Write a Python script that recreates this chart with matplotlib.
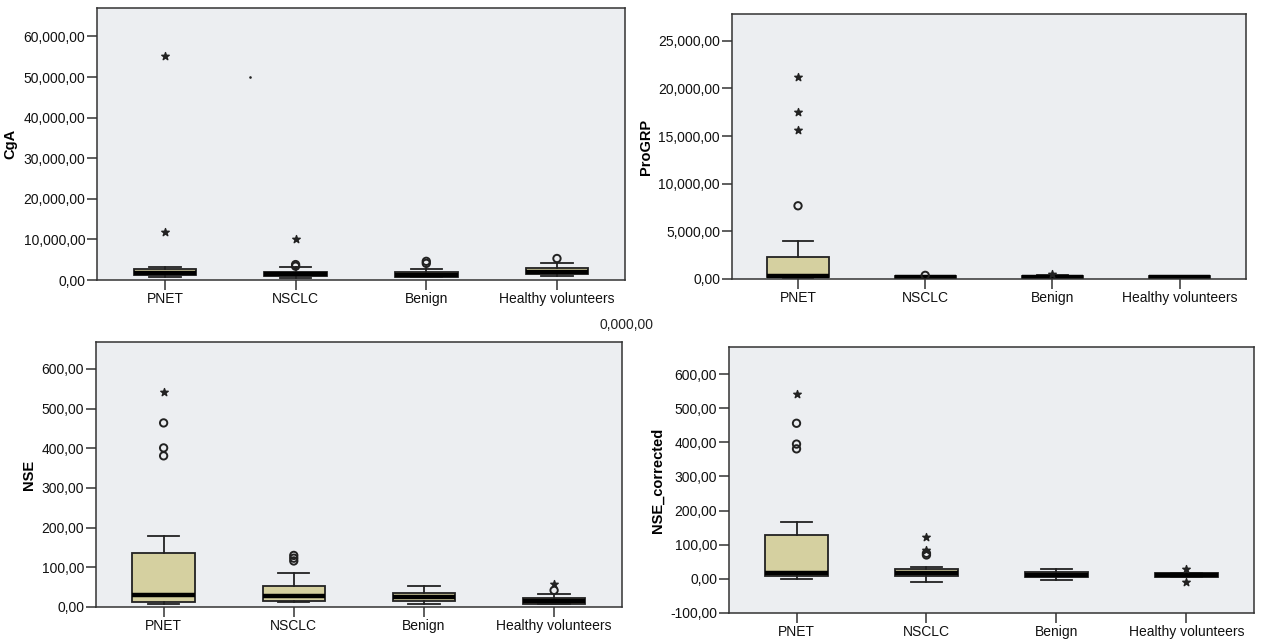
import matplotlib
matplotlib.use("Agg")
import matplotlib.pyplot as plt
from matplotlib.ticker import FuncFormatter

plt.rcParams['font.family'] = ['Liberation Sans', 'DejaVu Sans']

categories = ["PNET", "NSCLC", "Benign", "Healthy volunteers"]

# ---- CgA ----
cga_q1 = [1140, 980, 820, 1390]
cga_med = [1800, 1400, 1300, 2000]
cga_q3 = [2610, 2040, 1960, 3020]
cga_lo = [650, 570, 800, 980]
cga_hi = [3270, 3270, 2600, 4080]
cga_circ_x = [2, 2, 3, 3, 4]
cga_circ_y = [3400, 3800, 4100, 4600, 5300]
cga_star_x = [1, 1, 2]
cga_star_y = [55100, 11840, 10200]
cga_dot_x = [1.65]
cga_dot_y = [50000]

# ---- ProGRP ----
pro_q1 = [210, 80, 80, 70]
pro_med = [300, 200, 200, 180]
pro_q3 = [2320, 350, 350, 280]
pro_lo = [0, 0, 0, 40]
pro_hi = [4000, 350, 400, 300]
pro_circ_x = [1, 2]
pro_circ_y = [7680, 380]
pro_star_x = [1, 1, 1, 3]
pro_star_y = [21200, 17550, 15650, 490]

# ---- NSE ----
nse_q1 = [11.8, 14, 14, 8.4]
nse_med = [30, 27, 25, 14]
nse_q3 = [136, 54, 34, 23.5]
nse_lo = [8.4, 12, 8.4, 7]
nse_hi = [178, 86, 52, 33]
nse_circ_x = [1, 1, 1, 2, 2, 2, 4]
nse_circ_y = [464, 401, 381, 130, 123, 116, 42]
nse_star_x = [1, 4]
nse_star_y = [543, 58]

# ---- NSE_corrected ----
nsec_q1 = [9.8, 9.8, 5.9, 5.9]
nsec_med = [18.6, 18.6, 12.8, 11.8]
nsec_q3 = [128.6, 29.5, 20.6, 17.7]
nsec_lo = [0, -8, -4, 5.9]
nsec_hi = [167, 35, 28.5, 17.7]
nsec_circ_x = [1, 1, 1, 2, 2]
nsec_circ_y = [456, 395, 381, 70, 75]
nsec_star_x = [1, 2, 2, 4, 4]
nsec_star_y = [541, 122, 86, 29.5, -8]

BOX_FILL = "#D5D0A0"
BG = "#ECEEF1"
EDGE = "#222222"


def fmt(v, pos):
    s = f"{abs(v):,.2f}"
    intpart, dec = s.split(".")
    out = intpart + "," + dec
    return ("-" if v < 0 else "") + out


fig = plt.figure(figsize=(12.64, 6.39), dpi=100)


def panel(rect, q1, med, q3, lo, hi, cx, cy, sx, sy, ylim, yticks, ylabel,
          dx=None, dy=None):
    ax = fig.add_axes(rect)
    ax.set_facecolor(BG)
    stats = []
    for i in range(len(categories)):
        stats.append(dict(q1=q1[i], med=med[i], q3=q3[i],
                          whislo=lo[i], whishi=hi[i], fliers=[]))
    ax.bxp(stats, positions=range(1, len(categories) + 1), widths=0.48,
           showfliers=False, patch_artist=True,
           boxprops=dict(facecolor=BOX_FILL, edgecolor=EDGE, linewidth=1.3),
           medianprops=dict(color="black", linewidth=3.2),
           whiskerprops=dict(color=EDGE, linewidth=1.3),
           capprops=dict(color=EDGE, linewidth=1.3),
           capwidths=0.24)
    ax.scatter(cx, cy, marker="o", s=28, facecolors="none",
               edgecolors="#222222", linewidths=1.4, zorder=5)
    ax.scatter(sx, sy, marker="*", s=32, color="#222222", zorder=5)
    if dx is not None:
        ax.scatter(dx, dy, marker=".", s=3, color="#222222", zorder=5)
    ax.set_xlim(0.48, 4.52)
    ax.set_ylim(*ylim)
    ax.set_yticks(yticks)
    ax.yaxis.set_major_formatter(FuncFormatter(fmt))
    ax.set_xticks(range(1, len(categories) + 1))
    ax.set_xticklabels(categories)
    ax.tick_params(axis="both", direction="out", width=1.1,
                   colors="#333333", labelcolor="#111111", labelsize=10)
    ax.tick_params(axis="y", length=7, pad=1.5)
    ax.tick_params(axis="x", length=7, pad=1.5)
    for sp in ax.spines.values():
        sp.set_color("#333333")
        sp.set_linewidth(1.1)
    ax.set_ylabel(ylabel, fontsize=10.5, fontweight="bold", labelpad=4)
    return ax


a1 = panel([0.0767, 0.5618, 0.4177, 0.4257], cga_q1, cga_med, cga_q3, cga_lo,
           cga_hi, cga_circ_x, cga_circ_y, cga_star_x, cga_star_y,
           (0, 67000), [0, 10000, 20000, 30000, 40000, 50000, 60000], "CgA",
           cga_dot_x, cga_dot_y)
a2 = panel([0.579, 0.5634, 0.4066, 0.4147], pro_q1, pro_med, pro_q3, pro_lo,
           pro_hi, pro_circ_x, pro_circ_y, pro_star_x, pro_star_y,
           (0, 27800), [0, 5000, 10000, 15000, 20000, 25000], "ProGRP")
a3 = panel([0.0759, 0.0501, 0.416, 0.4147], nse_q1, nse_med, nse_q3, nse_lo,
           nse_hi, nse_circ_x, nse_circ_y, nse_star_x, nse_star_y,
           (0, 668), [0, 100, 200, 300, 400, 500, 600], "NSE")
a4 = panel([0.5767, 0.0407, 0.4153, 0.416], nsec_q1, nsec_med, nsec_q3, nsec_lo,
           nsec_hi, nsec_circ_x, nsec_circ_y, nsec_star_x, nsec_star_y,
           (-100, 679), [-100, 0, 100, 200, 300, 400, 500, 600], "NSE_corrected")

fig.text(626 / 1264, 1 - 325 / 639, "0,000,00", ha="center", va="center",
         fontsize=10, color="#222222")

fig.savefig("out.png", dpi=100, facecolor="white")
